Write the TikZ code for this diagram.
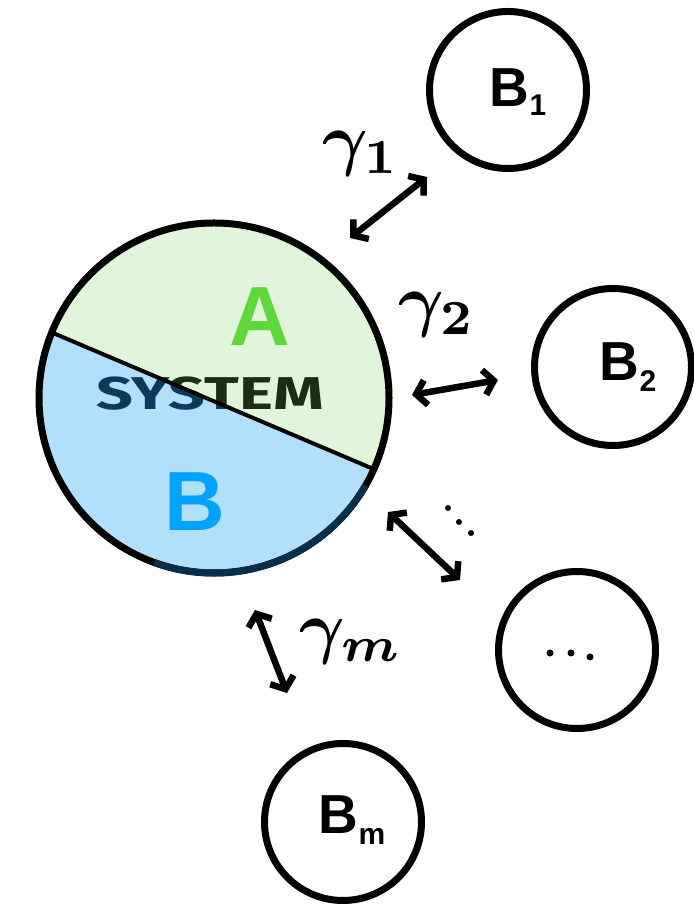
\documentclass[tikz,border=0pt]{standalone}
\usepackage{fontspec}
\usetikzlibrary{arrows.meta,calc}
\newfontfamily\labfont{Liberation Sans}
\newfontfamily\sysfont{Fira Sans}
\definecolor{fillA}{HTML}{E1F5DB}
\definecolor{fillB}{HTML}{B2E0FC}
\definecolor{txtA}{HTML}{5DD83B}
\definecolor{txtB}{HTML}{00A2FF}
\definecolor{navy}{HTML}{0B3A5C}
\definecolor{darkgreen}{HTML}{1B2E12}
\tikzset{
  bath/.style={circle, draw=black, line width=7pt, minimum size=157pt, inner sep=0pt},
  coupling/.style={line width=6.5pt, line cap=round, line join=round,
    {Straight Barb[length=10pt,width=25pt]}-{Straight Barb[length=10pt,width=25pt]}},
  gam/.style={scale=7, inner sep=0pt, font=\boldmath},
  blab/.style={font=\fontsize{55}{55}\selectfont\labfont\bfseries},
  dotmark/.style={fill=black, draw=none, circle, inner sep=0pt, minimum size=7pt},
  systxt/.style={font=\fontsize{46}{46}\selectfont\sysfont\bfseries, xscale=1.4}
}
\begin{document}
\begin{tikzpicture}[x=1pt,y=1pt]
\useasboundingbox (0,0) rectangle (693,909);
% main system circle
\coordinate (sc) at (214,511);
\def\R{175}
\coordinate (cl) at ($(sc)+(158:\R)$);
\coordinate (cr) at ($(sc)+(-24:\R)$);
% region A
\fill[fillA] (cr) arc[start angle=-24,end angle=158,radius=\R] -- cycle;
% region B
\fill[fillB] (cl) arc[start angle=158,end angle=336,radius=\R] -- cycle;
% SYSTEM text, coloured by region
\begin{scope}
  \clip (cr) arc[start angle=-24,end angle=158,radius=\R] -- cycle;
  \node[systxt, text=darkgreen] at (210,515) {SYSTEM};
\end{scope}
\begin{scope}
  \clip (cl) arc[start angle=158,end angle=336,radius=\R] -- cycle;
  \node[systxt, text=navy] at (210,515) {SYSTEM};
\end{scope}
% outline and divider
\draw[line width=7pt] (sc) circle[radius=\R];
\draw[navy!80!black, line width=7pt] ($(sc)+(250:\R)$) arc[start angle=250,end angle=330,radius=\R];
\draw[line width=4pt] (cl) -- (cr);
\node[text=txtA, font=\fontsize{84}{84}\selectfont\labfont\bfseries] (A) at (260,592) {A};
\node[text=txtB, font=\fontsize{84}{84}\selectfont\labfont\bfseries] (B) at (195,407) {B};
% baths
\node[bath] (B1) at (508,819) {};
\node[bath] (B2) at (613,542) {};
\node[bath] (Bd) at (577,259) {};
\node[bath] (Bm) at (343,87) {};
\node[blab] at (518,817) {B\raisebox{-0.15em}{\fontsize{30}{30}\selectfont 1}};
\node[blab] at (628,542) {B\raisebox{-0.2em}{\fontsize{30}{30}\selectfont 2}};
\node[blab] at (352,89) {B\raisebox{-0.2em}{\fontsize{30}{30}\selectfont m}};
\node[dotmark] (d1) at (550,256) {};
\node[dotmark] (d2) at (571,256) {};
\node[dotmark] (d3) at (590,252) {};
% couplings
\coordinate (g1s) at (350,671);
\coordinate (g1e) at (427,732);
\coordinate (g2s) at (412,514);
\coordinate (g2e) at (498,529);
\coordinate (g3s) at (388,397);
\coordinate (g3e) at (460,329);
\coordinate (gms) at (255,299);
\coordinate (gme) at (287,216);
\draw[coupling] (g1s) -- (g1e);
\draw[coupling] (g2s) -- (g2e);
\draw[coupling] (g3s) -- (g3e);
\draw[coupling] (gms) -- (gme);
\node[gam] (l1) at (361,755) {$\gamma_{1}$};
\node[gam] (l2) at (437,594) {$\gamma_{2}$};
\node[gam] (lm) at (351,267) {$\gamma_{m}$};
\node[dotmark, minimum size=6pt] (v1) at (448,401) {};
\node[dotmark, minimum size=6pt] (v2) at (459,387) {};
\node[dotmark, minimum size=6pt] (v3) at (471,376) {};
\end{tikzpicture}
\end{document}
